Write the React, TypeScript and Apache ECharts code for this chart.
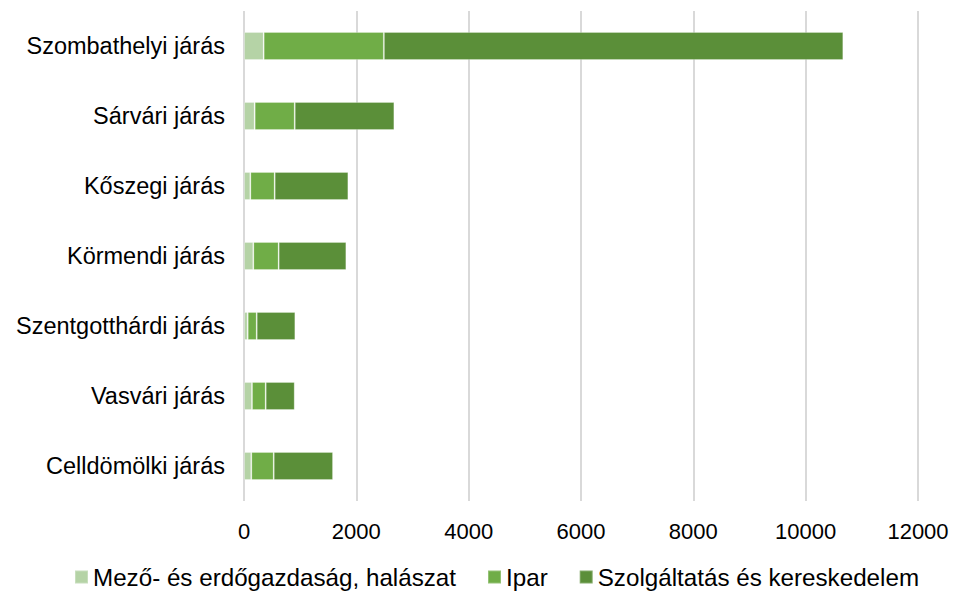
import React, { useEffect, useRef } from "react";
import * as echarts from "echarts";

const categories = [
  "Szombathelyi járás",
  "Sárvári járás",
  "Kőszegi járás",
  "Körmendi járás",
  "Szentgotthárdi járás",
  "Vasvári járás",
  "Celldömölki járás",
];
const agri = [350, 190, 113, 166, 66, 142, 130];
const industry = [2140, 713, 433, 451, 160, 244, 399];
const services = [8180, 1774, 1312, 1205, 688, 517, 1056];
const seriesNames = ["Mező- és erdőgazdaság, halászat", "Ipar", "Szolgáltatás és kereskedelem"];
const xTicks = { min: 0, max: 12000, interval: 2000 };

export default function App() {
  const ref = useRef<HTMLDivElement>(null);
  useEffect(() => {
    const chart = echarts.init(ref.current!, null, { renderer: "svg" });
    const font = "Liberation Sans, Arial, sans-serif";
    const colors = ["#b5d3a6", "#70ad47", "#5b8f39"];
    const datasets = [agri, industry, services];
    chart.setOption({
      animation: false,
      textStyle: { fontFamily: font },
      grid: { left: 244, right: 36, top: 11, bottom: 90 },
      legend: {
        top: 565,
        left: 74,
        padding: 0,
        itemWidth: 13,
        itemHeight: 13,
        itemGap: 31,
        icon: "rect",
        textStyle: { fontSize: 24.2, color: "#000", fontFamily: font, lineHeight: 24 },
        data: seriesNames,
      },
      xAxis: {
        type: "value",
        min: xTicks.min,
        max: xTicks.max,
        interval: xTicks.interval,
        axisLine: { show: false },
        axisTick: { show: false },
        splitLine: { lineStyle: { color: "#d9d9d9", width: 2 } },
        axisLabel: {
          fontSize: 22,
          color: "#000",
          margin: 19,
          fontFamily: font,
          formatter: (v: number) => String(v),
        },
      },
      yAxis: {
        type: "category",
        inverse: true,
        data: categories,
        axisLine: { show: false },
        axisTick: { show: false },
        axisLabel: { fontSize: 23.5, color: "#000", margin: 19, fontFamily: font },
      },
      series: datasets.map((d, i) => ({
        name: seriesNames[i],
        type: "bar",
        stack: "total",
        data: d,
        barWidth: 28,
        itemStyle: { color: colors[i], borderColor: "rgba(255,255,255,0.25)", borderWidth: 1 },
      })),
    });
    return () => chart.dispose();
  }, []);
  return (
    <div
      ref={ref}
      style={{ position: "absolute", left: 0, top: 0, width: 954, height: 591 }}
    />
  );
}
